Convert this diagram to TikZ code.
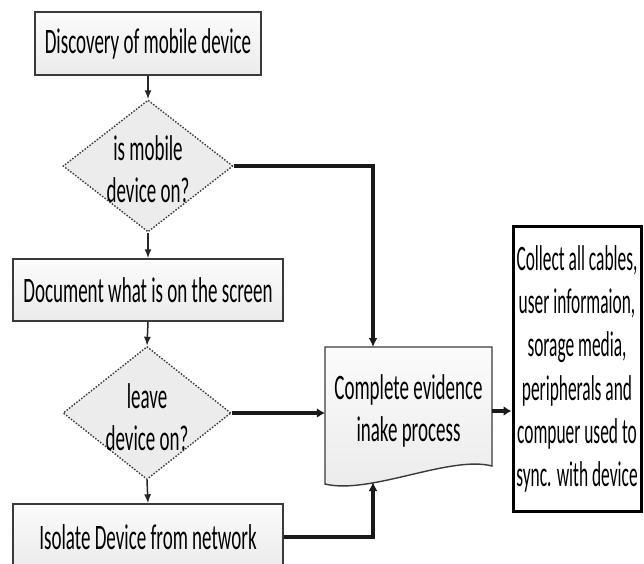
\documentclass[tikz,border=0pt]{standalone}
\usepackage{fontspec}
\setmainfont{Carlito}[FakeStretch=0.53]
\newfontfamily\collectfont{Carlito}[FakeStretch=0.485]
\usetikzlibrary{shapes.geometric,arrows.meta,calc}
\definecolor{edge}{HTML}{3A3A3A}
\definecolor{dfill}{HTML}{ECECEC}
\newcommand\mainsize{\fontsize{36}{42}\selectfont}
\tikzset{
  procbox/.style={draw=edge, line width=1.4bp, top color=white!97!gray, bottom color=gray!16, inner sep=0pt, font=\mainsize, align=center},
  decision/.style={diamond, draw=edge, line width=1.4bp, dash pattern=on 1.5bp off 1.6bp, fill=dfill, inner sep=0pt},
  dtext/.style={font=\mainsize, align=center},
  docshape/.style={draw=edge, line width=1.4bp, top color=white!97!gray, bottom color=gray!16},
  collect/.style={draw=black, line width=3bp, fill=white, inner sep=0pt, align=center, font=\collectfont\fontsize{36}{43.5}\selectfont},
  thinarrow/.style={draw=black!85, line width=1.5bp, -{Latex[length=9bp,width=7bp]}},
  thickarrow/.style={draw=black!90, line width=3.6bp, -{Latex[length=9bp,width=9bp]}},
  heavyarrow/.style={draw=black!90, line width=4.8bp, -{Latex[length=8bp,width=10bp]}}
}
\begin{document}
\begin{tikzpicture}[x=1bp,y=-1bp]
\useasboundingbox (0,0) rectangle (644,564);
\clip (0,0) rectangle (644,564);
\fill[white] (0,0) rectangle (644,564);

% document shape outline
\draw[docshape] (325,347) -- (492,347) -- (492,466)
  .. controls (450,455) and (370,495) .. (325,484) -- cycle;

\node[procbox, minimum width=226bp, minimum height=63bp] (b1) at (148,43.5) {Discovery of mobile device};
\node[decision, minimum width=170bp, minimum height=132bp,
      label={[dtext, yshift=-3bp]center:is mobile\\device on?}] (d1) at (148,166) {};
\node[procbox, minimum width=270bp, minimum height=62bp] (b2) at (148,290) {Document what is on the screen};
\node[decision, minimum width=168bp, minimum height=133bp,
      label={[dtext, yshift=-4bp]center:leave\\device on?}] (d2) at (147,413) {};
\node[procbox, minimum width=270bp, minimum height=66bp] (b3) at (148,537) {Isolate Device from network};
\node[font=\mainsize, align=center, minimum width=167bp, minimum height=128bp, inner sep=0pt] (doc) at (408.5,411) {Complete evidence\\inake process};
\node[collect, minimum width=128bp, minimum height=284bp] (b4) at (577,369)
  {Collect all cables,\\user informaion,\\sorage media,\\peripherals and\\compuer used to\\sync. with device};

\coordinate (docT) at (373,347);
\coordinate (docB) at (373,482);

\draw[thinarrow] (b1.south) -- (d1.north);
\draw[thinarrow] (d1.south) -- (b2.north);
\draw[thinarrow] (b2.south) -- (d2.north);
\draw[thinarrow] (d2.south) -- (b3.north);
\draw[thickarrow] (d1.east) -| (docT);
\draw[heavyarrow] (d2.east) -- (d2.east -| doc.west);
\draw[thickarrow] (b3.east) -| (docB);
\draw[heavyarrow] (doc.east) -- (doc.east -| b4.west);
\end{tikzpicture}
\end{document}
